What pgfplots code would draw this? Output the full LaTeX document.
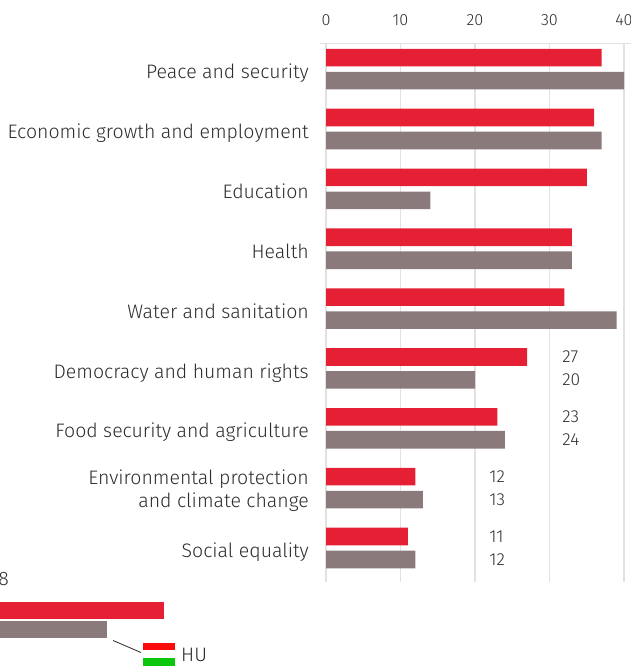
\documentclass[border=0pt]{standalone}
\usepackage{pgfplots}
\pgfplotsset{compat=1.18}
\usepackage{fontspec}
\setmainfont{Fira Sans}[UprightFont={* Light}]
\definecolor{ecred}{RGB}{229,32,52}
\definecolor{ecgray}{RGB}{138,122,123}
\definecolor{gridc}{RGB}{226,226,226}
\definecolor{txt}{RGB}{45,45,45}
\definecolor{hured}{RGB}{250,12,12}
\definecolor{hugreen}{RGB}{12,200,12}
\begin{document}
\begin{tikzpicture}
\useasboundingbox (0pt,0pt) rectangle (631pt,666pt);
\clip (0pt,0pt) rectangle (631pt,666pt);
\begin{axis}[
  at={(326pt,84pt)}, anchor=south west,
  scale only axis, width=298pt, height=538pt,
  xmin=0, xmax=40, ymin=-0.568, ymax=8.421,
  xbar, bar width=17.6pt, bar shift=0pt,
  axis line style={draw=none},
  major tick length=0pt,
  xtick={0,10,20,30,40},
  xticklabel pos=upper,
  xticklabel style={anchor=base, inner sep=0pt, yshift=18pt, font=\fontsize{16.2}{19}\selectfont, text=txt},
  /pgf/number format/assume math mode=true,
  xmajorgrids, major grid style={gridc, line width=1.2pt},
  ytick={0,1,2,3,4,5,6,7,8},
  yticklabels={Social equality, {\raisebox{13.4pt}{\begin{tabular}[t]{@{}r@{}}Environmental protection\\and climate change\end{tabular}}}, Food security and agriculture, Democracy and human rights, Water and sanitation, Health, Education, Economic growth and employment, Peace and security},
  yticklabel style={anchor=base east, inner sep=0pt, xshift=-17pt, yshift=-9.6pt, font=\fontsize{19.5}{23.3}\selectfont, text=txt},
]
% categories from bottom (Social equality = 0) to top (Peace and security = 8)
\addplot[fill=ecred, draw=none] coordinates {(11,0.192) (12,1.192) (23,2.192) (27,3.192) (32,4.192) (33,5.192) (35,6.192) (36,7.192) (37,8.192)};
\addplot[fill=ecgray, draw=none] coordinates {(12,-0.192) (13,0.808) (24,1.808) (20,2.808) (39,3.808) (33,4.808) (14,5.808) (37,6.808) (40,7.808)};
\begin{scope}[every node/.style={anchor=west, inner sep=0pt, font=\fontsize{17.4}{20}\selectfont, text=txt}]
\node at (axis cs:31.7,3.192) {27};
\node at (axis cs:31.7,2.808) {20};
\node at (axis cs:31.7,2.192) {23};
\node at (axis cs:31.7,1.808) {24};
\node at (axis cs:21.9,1.192) {12};
\node at (axis cs:21.9,0.808) {13};
\node at (axis cs:21.9,0.192) {11};
\node at (axis cs:21.9,-0.192) {12};
\end{scope}
\end{axis}
\draw[gridc, line width=1.2pt] (320pt,622.5pt) -- (631pt,622.5pt);
\begin{axis}[
  at={(0pt,26pt)}, anchor=south west,
  scale only axis, width=200pt, height=40pt,
  xmin=0, xmax=26.846, ymin=0, ymax=40,
  hide axis, xbar, bar width=16.6pt, bar shift=0pt,
]
\addplot[fill=ecred, draw=none] coordinates {(22,29.7)};
\addplot[fill=ecgray, draw=none] coordinates {(14.4,10.5)};
\end{axis}
\node[anchor=base east, inner sep=0pt, font=\fontsize{19.5}{22}\selectfont, text=txt] at (9pt,80pt) {8};
\draw[txt, line width=0.8pt] (113pt,25.5pt) -- (141pt,13.5pt);
\fill[hured] (143pt,15.7pt) rectangle (175pt,23pt);
\fill[hugreen] (143pt,0pt) rectangle (175pt,7.7pt);
\node[anchor=base west, inner sep=0pt, font=\fontsize{19.5}{23}\selectfont, text=txt] at (181pt,4.3pt) {HU};
\end{tikzpicture}
\end{document}
